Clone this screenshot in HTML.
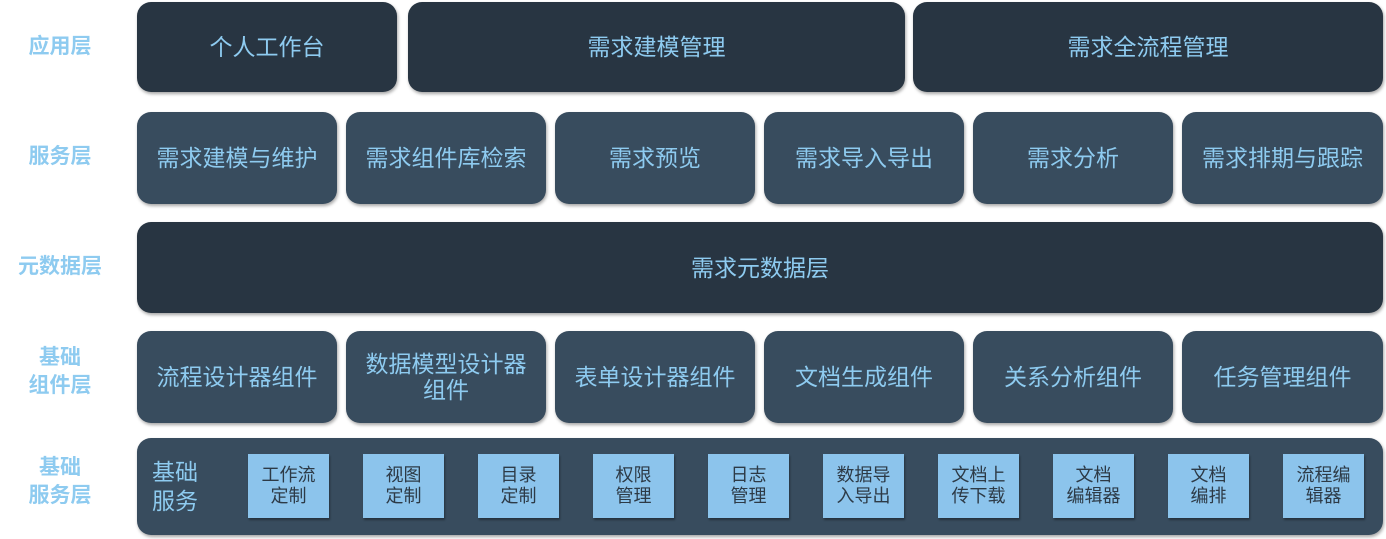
<!DOCTYPE html>
<html><head><meta charset="utf-8"><style>
body{margin:0;width:1386px;height:539px;background:#fff;position:relative;overflow:hidden;font-family:"Liberation Sans","Noto Sans CJK SC",sans-serif}
.b{position:absolute;border-radius:14px;display:flex;align-items:center;justify-content:center;text-align:center;color:#8ecbf0;font-size:23px;line-height:26px;box-shadow:1px 2px 3px rgba(0,0,0,.35)}
.d{background:#283542}.m{background:#384c5e}
.l{position:absolute;left:0;width:120px;text-align:center;color:#8ecbf0;font-weight:bold;font-size:21px;line-height:28px}
.s{position:absolute;top:454px;width:81px;height:64px;background:#8cc4ec;color:#2d3a46;font-size:18px;line-height:21px;display:flex;align-items:center;justify-content:center;text-align:center;box-shadow:1px 2px 2px rgba(0,0,0,.35)}
</style></head><body>
<div class="l" style="top:33px">应用层</div>
<div class="l" style="top:143px">服务层</div>
<div class="l" style="top:253px">元数据层</div>
<div class="l" style="top:344px">基础<br>组件层</div>
<div class="l" style="top:454px">基础<br>服务层</div>

<div class="b d" style="left:137px;top:2px;width:260px;height:90px">个人工作台</div>
<div class="b d" style="left:408px;top:2px;width:497px;height:90px">需求建模管理</div>
<div class="b d" style="left:913px;top:2px;width:470px;height:90px">需求全流程管理</div>

<div class="b m" style="left:137px;top:112px;width:200px;height:92px">需求建模与维护</div>
<div class="b m" style="left:346px;top:112px;width:200px;height:92px">需求组件库检索</div>
<div class="b m" style="left:555px;top:112px;width:200px;height:92px">需求预览</div>
<div class="b m" style="left:764px;top:112px;width:200px;height:92px">需求导入导出</div>
<div class="b m" style="left:973px;top:112px;width:200px;height:92px">需求分析</div>
<div class="b m" style="left:1182px;top:112px;width:201px;height:92px">需求排期与跟踪</div>

<div class="b d" style="left:137px;top:222px;width:1246px;height:91px">需求元数据层</div>

<div class="b m" style="left:137px;top:331px;width:200px;height:92px">流程设计器组件</div>
<div class="b m" style="left:346px;top:331px;width:200px;height:92px">数据模型设计器<br>组件</div>
<div class="b m" style="left:555px;top:331px;width:200px;height:92px">表单设计器组件</div>
<div class="b m" style="left:764px;top:331px;width:200px;height:92px">文档生成组件</div>
<div class="b m" style="left:973px;top:331px;width:200px;height:92px">关系分析组件</div>
<div class="b m" style="left:1182px;top:331px;width:201px;height:92px">任务管理组件</div>

<div class="b m" style="left:137px;top:438px;width:1246px;height:97px;justify-content:flex-start"><span style="margin-left:15px;text-align:left;line-height:29px">基础<br>服务</span></div>
<div class="s" style="left:248px">工作流<br>定制</div>
<div class="s" style="left:363px">视图<br>定制</div>
<div class="s" style="left:478px">目录<br>定制</div>
<div class="s" style="left:593px">权限<br>管理</div>
<div class="s" style="left:708px">日志<br>管理</div>
<div class="s" style="left:823px">数据导<br>入导出</div>
<div class="s" style="left:938px">文档上<br>传下载</div>
<div class="s" style="left:1053px">文档<br>编辑器</div>
<div class="s" style="left:1168px">文档<br>编排</div>
<div class="s" style="left:1283px">流程编<br>辑器</div>
</body></html>
